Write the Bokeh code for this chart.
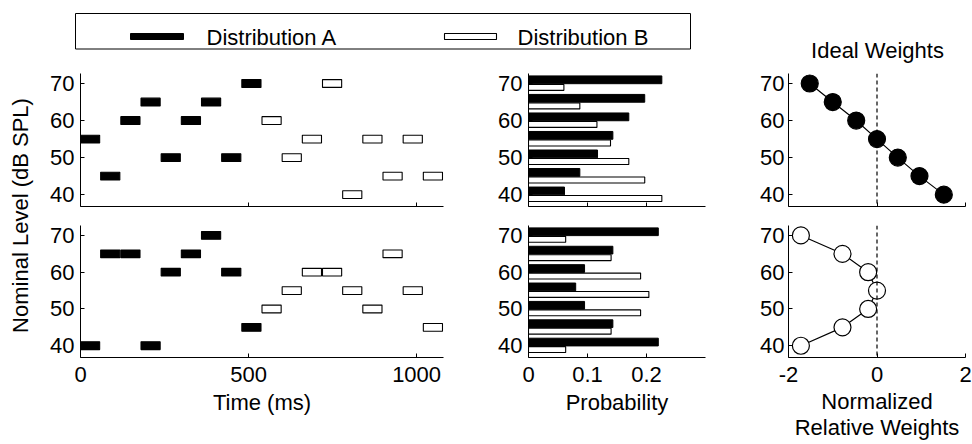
import math
from bokeh.plotting import figure
from bokeh.layouts import row, column
from bokeh.models import Range1d, Span
from bokeh.core.properties import value
from bokeh.embed import file_html
from bokeh.resources import INLINE

FONT = "Liberation Sans"
FS = "22px"

# ---------------- data ----------------
levels = [70, 65, 60, 55, 50, 45, 40]
level_ticks = [40, 50, 60, 70]

onsets = [0, 60, 120, 180, 240, 300, 360, 420, 480,
          540, 600, 660, 720, 780, 840, 900, 960, 1020]
tone_dur = 57
dist = ["A"] * 9 + ["B"] * 9
top_levels = [55, 45, 60, 65, 50, 60, 65, 50, 70,
              60, 50, 55, 70, 40, 55, 45, 55, 45]
bot_levels = [40, 65, 65, 40, 60, 65, 70, 60, 45,
              50, 55, 60, 60, 55, 50, 65, 55, 45]
time_ticks = [0, 500, 1000]

probA_top = [0.226, 0.197, 0.170, 0.143, 0.117, 0.087, 0.061]
probB_top = [0.060, 0.087, 0.116, 0.139, 0.170, 0.197, 0.226]
probA_bot = [0.220, 0.143, 0.095, 0.080, 0.095, 0.143, 0.220]
probB_bot = [0.063, 0.140, 0.190, 0.204, 0.190, 0.140, 0.063]
prob_ticks = [0, 0.1, 0.2]

w_ideal = [-1.52, -1.00, -0.47, 0.00, 0.47, 0.96, 1.51]
w_obs = [-1.72, -0.78, -0.20, 0.00, -0.20, -0.78, -1.72]
weight_ticks = [-2, 0, 2]
weight_tick_labels = {-2: "-2", 0: "0", 2: "2"}

legend_labels = ["Distribution A", "Distribution B"]
title_right = "Ideal Weights"
ylabel = "Nominal Level (dB SPL)"

YR = (36.8, 72.7)


def style(p, xticks, show_xlabels, ystandoff=6):
    p.toolbar_location = None
    p.outline_line_color = None
    p.grid.visible = False
    for ax in p.axis:
        ax.major_tick_in = 4
        ax.major_tick_out = 0
        ax.minor_tick_line_color = None
        ax.axis_line_color = "black"
        ax.axis_line_width = 1
        ax.major_tick_line_color = "black"
        ax.major_label_text_font = FONT
        ax.major_label_text_color = "black"
        ax.axis_label_text_font = FONT
        ax.axis_label_text_font_style = "normal"
        ax.axis_label_text_color = "black"
        ax.axis_label_text_font_size = FS
        ax.axis_label_text_line_height = 1.05
    p.yaxis.ticker = level_ticks
    p.yaxis.major_label_text_font_size = FS
    p.yaxis.major_label_standoff = ystandoff
    p.xaxis.ticker = xticks
    if show_xlabels:
        p.xaxis.major_label_text_font_size = FS
        p.xaxis.major_label_standoff = 9
        p.xaxis.axis_label_standoff = 5
    else:
        p.xaxis.major_label_overrides = {t: "" for t in xticks}
        p.xaxis.major_label_text_font_size = "0px"
        p.xaxis.major_label_standoff = 0


def mkfig(w, h, xr, mb):
    l, r, t, b = mb
    return figure(width=w, height=h, x_range=Range1d(*xr), y_range=Range1d(*YR),
                  output_backend="svg", toolbar_location=None,
                  min_border_left=l, min_border_right=r,
                  min_border_top=t, min_border_bottom=b)


def tones(p, lv):
    for d, fill in (("A", "black"), ("B", "white")):
        xs = [o for o, dd in zip(onsets, dist) if dd == d]
        ys = [v for v, dd in zip(lv, dist) if dd == d]
        p.quad(left=xs, right=[x + tone_dur for x in xs],
               bottom=[y - 1.05 for y in ys], top=[y + 1.05 for y in ys],
               fill_color=fill, line_color="black", line_width=1.1)


def bars(p, pa, pb):
    p.hbar(y=[l + 1.0 for l in levels], left=0, right=pa, height=2.1,
           fill_color="black", line_color="black", line_width=1)
    p.hbar(y=[l - 1.05 for l in levels], left=0, right=pb, height=1.6,
           fill_color="white", line_color="black", line_width=1.1)


def weights(p, w, fill):
    p.line(x=w, y=levels, line_color="black", line_width=1.2)
    p.add_layout(Span(location=0, dimension="height", line_color="black",
                      line_dash="4 3", line_width=1.2))
    p.scatter(x=w, y=levels, size=17, fill_color=fill, line_color="black",
              line_width=1.2)


TOP = (9, 9)
BOT = (10, 87)
LEFT = (40, 27)
MID = (58, 51)
RIGHT = (32, 7)

lt = mkfig(430, 151, (0, 1080), LEFT + TOP)
tones(lt, top_levels)
style(lt, time_ticks, False)

lb = mkfig(430, 229, (0, 1080), LEFT + BOT)
tones(lb, bot_levels)
style(lb, time_ticks, True)
lb.xaxis.axis_label = "Time (ms)"

mt = mkfig(286, 151, (0, 0.3), MID + TOP)
bars(mt, probA_top, probB_top)
style(mt, prob_ticks, False)

mb_ = mkfig(286, 229, (0, 0.3), MID + BOT)
bars(mb_, probA_bot, probB_bot)
style(mb_, prob_ticks, True)
mb_.xaxis.axis_label = "Probability"

rt = mkfig(216, 151, (-2, 2), RIGHT + TOP)
weights(rt, w_ideal, "black")
style(rt, weight_ticks, False, ystandoff=4)

rb = mkfig(216, 229, (-2, 2), RIGHT + BOT)
weights(rb, w_obs, "white")
style(rb, weight_ticks, True, ystandoff=4)
rb.xaxis.major_label_overrides = weight_tick_labels
rb.xaxis.axis_label = "Normalized\nRelative Weights"
rb.xaxis.axis_label_standoff = 4

# header (legend + right title), drawn in page pixel coordinates
hdr = figure(width=972, height=64, x_range=Range1d(0, 972), y_range=Range1d(64, 0),
             output_backend="svg", toolbar_location=None,
             x_axis_type=None, y_axis_type=None, min_border=0)
hdr.grid.visible = False
hdr.outline_line_color = None
hdr.quad(left=[75], right=[690], top=[13], bottom=[48.5], fill_color=None,
         line_color="black", line_width=1)
hdr.quad(left=[130], right=[183], top=[33], bottom=[39], fill_color="black",
         line_color="black", line_width=1)
hdr.quad(left=[444], right=[496], top=[33], bottom=[39], fill_color="white",
         line_color="black", line_width=1.1)
hdr.text(x=[206, 517], y=[37, 37], text=legend_labels, text_font=value(FONT),
         text_font_size=FS, text_align="left", text_baseline="middle",
         text_color="black")
hdr.text(x=[877], y=[50], text=[title_right], text_font=value(FONT),
         text_font_size=FS, text_align="center", text_baseline="middle",
         text_color="black")

# shared y-axis label
ylab = figure(width=40, height=380, x_range=Range1d(0, 40), y_range=Range1d(444, 64),
              output_backend="svg", toolbar_location=None,
              x_axis_type=None, y_axis_type=None, min_border=0)
ylab.grid.visible = False
ylab.outline_line_color = None
ylab.text(x=[20], y=[215], text=[ylabel], angle=math.pi / 2, text_font=value(FONT),
          text_font_size=FS, text_align="center", text_baseline="middle",
          text_color="black")

layout = column(hdr, row(ylab, column(row(lt, mt, rt), row(lb, mb_, rb))))

open("out.html", "w").write(file_html(layout, INLINE))
